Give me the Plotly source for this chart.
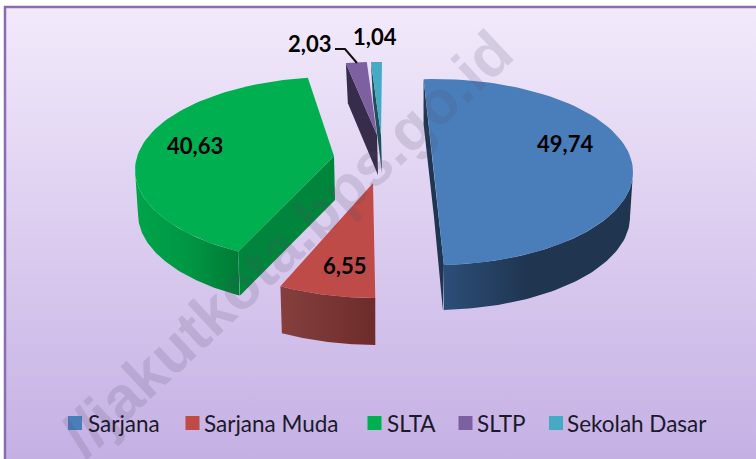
import numpy as np
import plotly.graph_objects as go

categories = ["Sarjana", "Sarjana Muda", "SLTA", "SLTP", "Sekolah Dasar"]
values = [49.74, 6.55, 40.63, 2.03, 1.04]
labels = ["49,74", "6,55", "40,63", "2,03", "1,04"]
colors = ["#4A7EBB", "#BE4B48", "#00B050", "#7D60A0", "#46AAC4"]
walls_inner = ["#1F3550", "#6D2B2A", "#00853C", "#372C4A", "#1F4F5E"]
wall_scale = {
    "Sarjana": [[0, "#2C4E78"], [0.45, "#1F3550"], [1, "#1F3550"]],
    "Sarjana Muda": [[0, "#85403E"], [1, "#6D2B2A"]],
    "SLTA": [[0, "#00A44A"], [0.5, "#009744"], [1, "#007A36"]],
}

# exploded 3-D pie layout, in pixels of the 756x459 picture
geom = {
    "Sarjana":       dict(c=(434, 172), start=-3.0, warp=1.006, tip=(434, 172), depth=45, inner="both"),
    "Sarjana Muda":  dict(c=(377, 205), start=180.5, warp=1.21, tip=(373, 183), depth=47, inner=None),
    "SLTA":          dict(c=(334, 170), start=208.8, warp=0.982, tip=(334, 156), depth=44, inner="start"),
    "SLTP":          dict(c=(377, 155), start=-9.0, warp=0.83, tip=(377, 135), depth=40, inner="start"),
    "Sekolah Dasar": dict(c=(381, 155), start=-2.9, warp=0.85, tip=(381, 135), depth=38, inner="start"),
}
RX, RY = 199, 93
draw_order = ["Sekolah Dasar", "SLTP", "SLTA", "Sarjana Muda", "Sarjana"]
W, H = 756, 459

fig = go.Figure()


def poly(xs, ys, color=None, scale=None, gtype="horizontal", hover=None):
    xs, ys = list(xs), list(ys)
    kw = dict(x=xs + xs[:1], y=ys + ys[:1], mode="lines", line=dict(width=0),
              fill="toself", showlegend=False, hoverinfo="text" if hover else "skip", text=hover)
    if scale:
        kw["fillgradient"] = dict(type=gtype, colorscale=scale)
    else:
        kw["fillcolor"] = color
    fig.add_trace(go.Scatter(**kw))


# background panel (vertical gradient runs bottom to top on screen)
poly([5, W, W, 5], [7, 7, H, H], scale=[[0, "#C5B0E4"], [1, "#F2EAFB"]], gtype="vertical")
fig.add_trace(go.Scatter(x=[5, 5, W], y=[H, 7, 7], mode="lines",
                         line=dict(color="#8A6DB0", width=2.5), showlegend=False, hoverinfo="skip"))

total = sum(values)
for name in draw_order:
    i = categories.index(name)
    g = geom[name]
    cx, cy = g["c"]
    t0 = g["start"]
    t1 = t0 + values[i] / total * 360 * g["warp"]
    t = np.radians(np.linspace(t0, t1, 80))
    ax = cx + RX * np.sin(t)
    ay = cy - RY * np.cos(t)
    d = g["depth"]
    tx, ty = g["tip"]

    # inner cut wall
    if g["inner"] == "start":
        poly([ax[0], tx, tx + 1, ax[0] + 2], [ay[0], ty, ty + d, ay[0] + d], color=walls_inner[i])
    elif g["inner"] == "both":
        poly([ax[0], tx, ax[-1], ax[-1] - 1, tx, ax[0]],
             [ay[0], ty, ay[-1], ay[-1] + d, ty + d, ay[0] + d], color=walls_inner[i])

    # outer rim wall: only the part of the rim facing the viewer
    lo, hi = max(t0, 90), min(t1, 270)
    if hi > lo and name in wall_scale:
        s = np.radians(np.linspace(lo, hi, 60))
        wx = cx + RX * np.sin(s)
        wy = cy - RY * np.cos(s)
        bx = cx + (RX - 3) * np.sin(s)
        by = cy - RY * np.cos(s) + d
        poly(np.r_[wx, bx[::-1]], np.r_[wy, by[::-1]], scale=wall_scale[name])

    # top face
    poly(np.r_[tx, ax], np.r_[ty, ay], color=colors[i], hover=f"{name}: {labels[i]}")

# leader line for 2,03
fig.add_trace(go.Scatter(x=[335, 345, 357], y=[49, 49, 63], mode="lines",
                         line=dict(color="#111111", width=2), showlegend=False, hoverinfo="skip"))

# legend swatches
swatch_x = [75, 192.5, 374.5, 465.5, 556]
text_x = [86, 202, 385, 475, 565]
fig.add_trace(go.Scatter(x=swatch_x, y=[423] * 5, mode="markers",
                         marker=dict(symbol="square", size=14, color=colors, line=dict(width=0)),
                         showlegend=False, hoverinfo="skip"))

ann = [dict(x=287, y=243, xref="x", yref="y", text="<b>//jakutkota.bps.go.id</b>", showarrow=False,
            textangle=-43, font=dict(family="Liberation Sans", size=61, color="rgba(85,80,105,0.17)"))]
label_xy = [(565, 143), (344, 265), (195, 145), (309, 43), (375, 36)]
for (lx, ly), lab in zip(label_xy, labels):
    ann.append(dict(x=lx, y=ly, xref="x", yref="y", text=f"<b>{lab}</b>", showarrow=False,
                    font=dict(family="Lato", size=22, color="#000000")))
for xx, name in zip(text_x, categories):
    ann.append(dict(x=xx, y=423, xref="x", yref="y", text=name, showarrow=False, xanchor="left",
                    font=dict(family="Lato", size=22.5, color="#1a1a2a")))

fig.update_layout(
    width=W, height=H, margin=dict(l=0, r=0, t=0, b=0), paper_bgcolor="#FFFFFF", plot_bgcolor="#FFFFFF",
    xaxis=dict(range=[0, W], visible=False, fixedrange=True),
    yaxis=dict(range=[H, 0], visible=False, fixedrange=True),
    annotations=ann, showlegend=False,
)
fig.write_html("out.html", config={"displayModeBar": False},
               post_script="document.body.style.margin='0';document.body.style.overflow='hidden';")
